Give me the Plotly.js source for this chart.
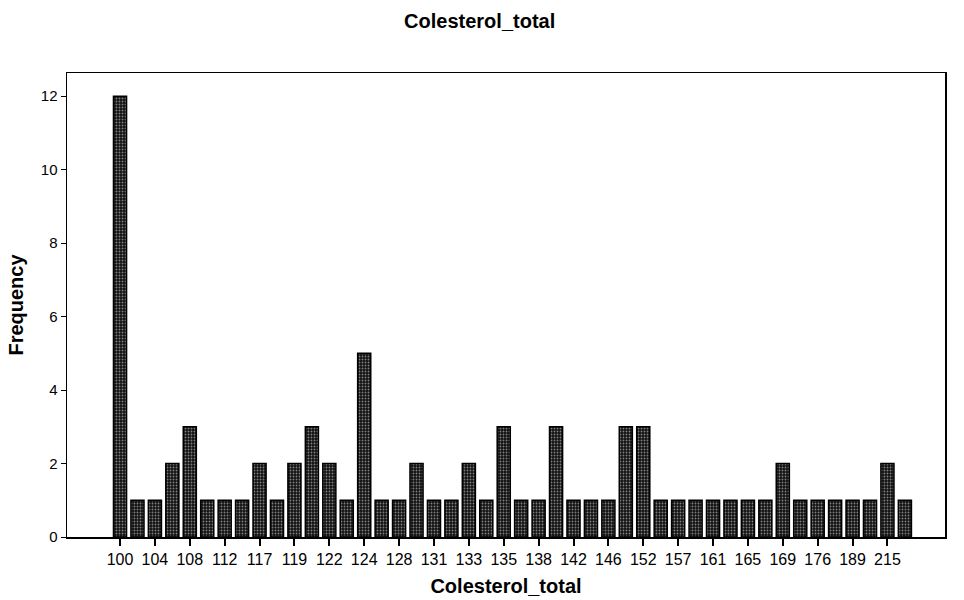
<!DOCTYPE html>
<html>
<head>
<meta charset="utf-8">
<script src="https://cdn.plot.ly/plotly-3.0.1.min.js"></script>
<style>html,body{margin:0;padding:0;background:#fff;}#chart{width:964px;height:600px;}</style>
</head>
<body>
<div id="chart"></div>
<script>
// Categories (unlabelled in-between values estimated)
const categories = ['100','102','104','106','108','110','112','115','117','118','119','121','122','123','124','126','128','130','131','132','133','134','135','137','138','140','142','144','146','150','152','155','157','160','161','163','165','167','169','172','176','180','189','200','215','230'];
const frequency = [12,1,1,2,3,1,1,1,2,1,2,3,2,1,5,1,1,2,1,1,2,1,3,1,1,3,1,1,1,3,3,1,1,1,1,1,1,1,2,1,1,1,1,1,2,1];
const tickLabels = ['100','104','108','112','117','119','122','124','128','131','133','135','138','142','146','152','157','161','165','169','176','189','215'];
const yTicks = [0,2,4,6,8,10,12];

const font = 'Liberation Sans, Arial, sans-serif';
const trace = {
  type: 'bar',
  x: categories,
  y: frequency,
  marker: {
    color: '#111',
    line: {color: '#000', width: 1.5},
    pattern: {shape: '.', fgcolor: '#808080', bgcolor: '#111', size: 3, solidity: 0.3}
  },
  hoverinfo: 'x+y'
};
const layout = {
  width: 964, height: 600,
  margin: {l: 67, r: 19, t: 73, b: 63},
  paper_bgcolor: '#fff', plot_bgcolor: '#fff',
  bargap: 0.25,
  showlegend: false,
  title: {text: '<b>Colesterol_total</b>', xref: 'paper', x: 0.47, xanchor: 'center', y: 0.965, yanchor: 'middle', font: {family: font, size: 20, color: '#000'}},
  xaxis: {
    type: 'category',
    categoryorder: 'array', categoryarray: categories,
    range: [-3.04, 47.3],
    tickmode: 'array', tickvals: tickLabels, ticktext: tickLabels,
    ticks: 'outside', ticklen: 7, tickwidth: 2, tickcolor: '#000',
    showline: true, linecolor: '#000', linewidth: 1.5, mirror: true,
    showgrid: false, zeroline: false,
    tickfont: {family: font, size: 16, color: '#000'},
    title: {text: '<b>Colesterol_total</b>', standoff: 12, font: {family: font, size: 20, color: '#000'}}
  },
  yaxis: {
    range: [0, 12.63],
    tickmode: 'array', tickvals: yTicks,
    ticks: 'outside', ticklen: 5, tickwidth: 1, tickcolor: '#000',
    showline: true, linecolor: '#000', linewidth: 1.5, mirror: true,
    showgrid: false, zeroline: false,
    tickfont: {family: font, size: 15, color: '#000'},
    title: {text: '<b>Frequency</b>', standoff: 12, font: {family: font, size: 20, color: '#000'}}
  }
};
Plotly.newPlot('chart', [trace], layout, {displayModeBar: false, staticPlot: true});
</script>
</body>
</html>
